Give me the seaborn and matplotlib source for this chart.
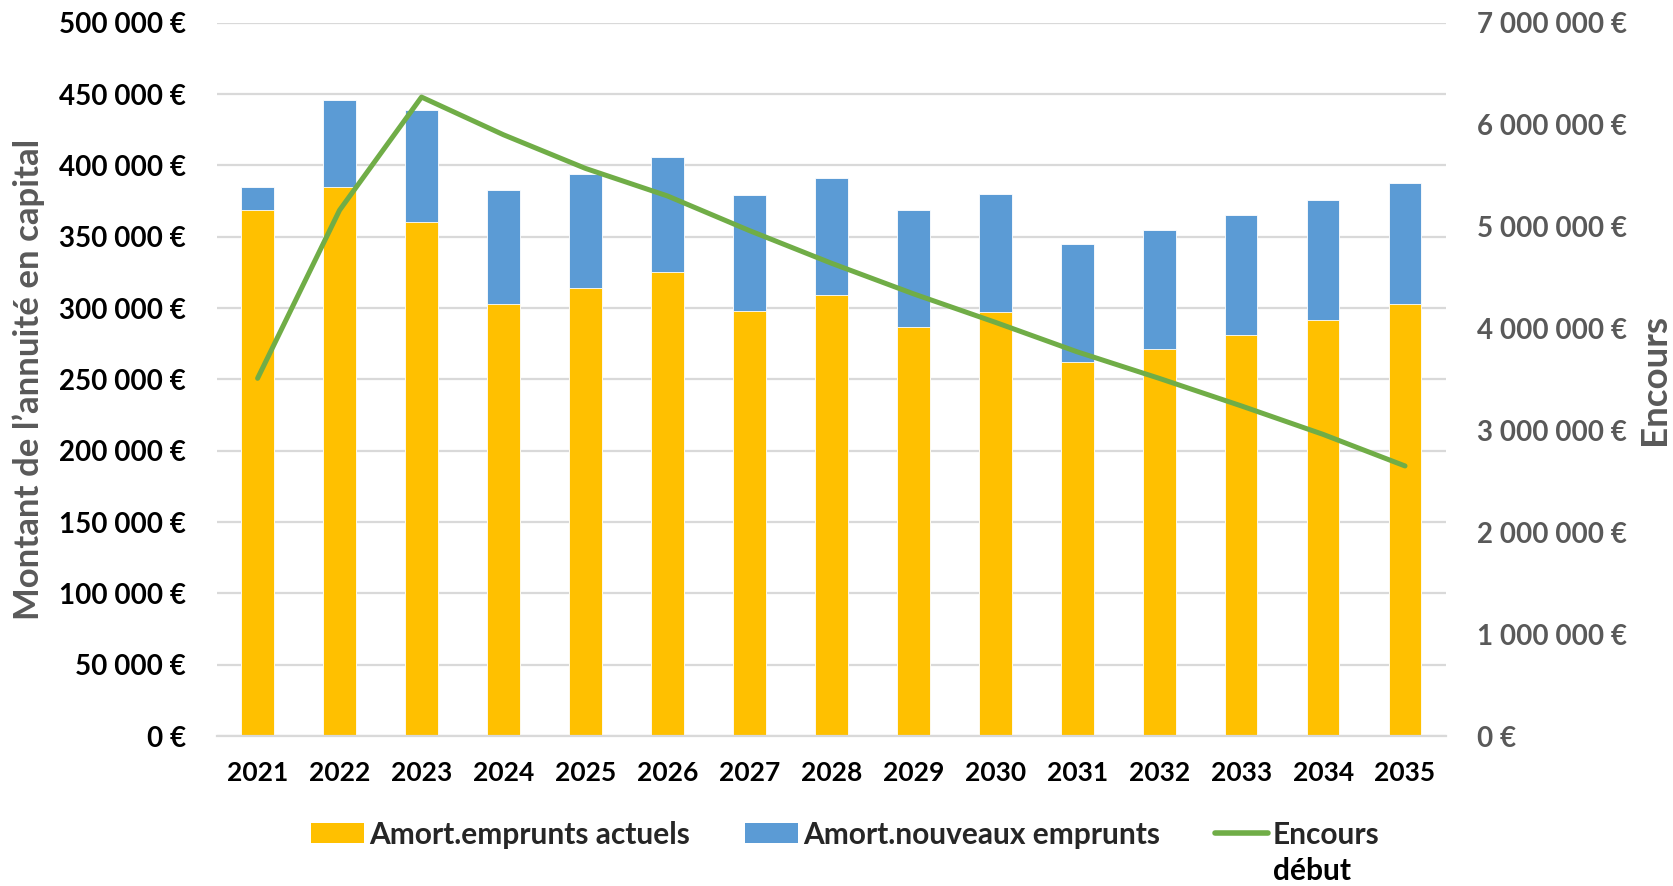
import pandas as pd
import matplotlib.pyplot as plt
import seaborn as sns
from matplotlib.ticker import FuncFormatter, MultipleLocator
from matplotlib.patches import Patch
from matplotlib.lines import Line2D

# données (en euros)
annees = [str(a) for a in range(2021, 2036)]
amort_actuels = [368500, 384500, 360000, 303000, 314000, 325000, 298000, 309000,
                 286500, 297000, 262000, 271000, 281000, 291500, 302500]
amort_nouveaux = [16500, 61500, 79000, 80000, 80000, 80500, 81000, 82000,
                  82000, 83000, 83000, 84000, 84500, 84500, 85000]
encours_debut = [3510000, 5160000, 6270000, 5900000, 5570000, 5300000, 4960000, 4640000,
                 4340000, 4060000, 3770000, 3510000, 3240000, 2960000, 2650000]

df = pd.DataFrame({
    "annee": annees,
    "actuels": amort_actuels,
    "nouveaux": amort_nouveaux,
    "encours": encours_debut,
})
df["total"] = df["actuels"] + df["nouveaux"]
df["pos"] = range(len(df))

JAUNE = "#FFC000"
BLEU = "#5B9BD5"
VERT = "#70AD47"
GRIS = "#595959"

sns.set_theme(style="white")
plt.rcParams["font.family"] = ["Lato", "DejaVu Sans"]
plt.rcParams["font.weight"] = "bold"

W, H = 1674, 886
fig, ax = plt.subplots(figsize=(W / 100, H / 100), dpi=100)
fig.subplots_adjust(left=0.1294, right=0.8638, top=0.9744, bottom=0.1693)

# barres empilées : total (bleu) puis part actuelle (jaune) par-dessus
sns.barplot(data=df, x="annee", y="total", color=BLEU, width=0.4,
            saturation=1, edgecolor="white", linewidth=0.6, ax=ax)
sns.barplot(data=df, x="annee", y="actuels", color=JAUNE, width=0.4,
            saturation=1, edgecolor="white", linewidth=0.6, ax=ax)

ax.set_ylim(0, 500000)
ax.yaxis.set_major_locator(MultipleLocator(50000))
fmt = FuncFormatter(lambda v, p: f"{int(round(v)):,}".replace(",", " ") + " €")
ax.yaxis.set_major_formatter(fmt)
ax.yaxis.grid(True, color="#D9D9D9", linewidth=1.6)
ax.set_axisbelow(True)
ax.set_xlabel("")
ax.set_ylabel("Montant de l’annuité en capital", fontsize=25, color=GRIS,
              fontweight="bold", labelpad=10)
ax.tick_params(axis="y", length=0, pad=22, labelsize=20, labelcolor="black")
ax.tick_params(axis="x", length=0, pad=18, labelsize=19, labelcolor="black")
for s in ["top", "right", "left"]:
    ax.spines[s].set_visible(False)
ax.spines["bottom"].set_color("#D9D9D9")
ax.spines["bottom"].set_linewidth(1.6)

# encours sur l'axe secondaire
ax2 = ax.twinx()
sns.lineplot(data=df, x="pos", y="encours", color=VERT, linewidth=3.6,
             solid_capstyle="round", ax=ax2)
ax2.set_ylim(0, 7000000)
ax2.yaxis.set_major_locator(MultipleLocator(1000000))
ax2.yaxis.set_major_formatter(fmt)
ax2.set_ylabel("Encours", fontsize=26.5, color=GRIS, fontweight="bold")
ax2.yaxis.set_label_coords(1.156, 0.5)
ax2.tick_params(axis="y", length=0, pad=22, labelsize=20, labelcolor=GRIS)
ax2.grid(False)
for s in ["top", "right", "left", "bottom"]:
    ax2.spines[s].set_visible(False)
ax.set_xlim(-0.5, len(df) - 0.5)
ax2.set_xlim(-0.5, len(df) - 0.5)

for lab in ax.get_xticklabels() + ax.get_yticklabels() + ax2.get_yticklabels():
    lab.set_fontweight("bold")

handles = [
    Patch(facecolor=JAUNE, edgecolor="none"),
    Patch(facecolor=BLEU, edgecolor="none"),
    Line2D([0], [0], color=VERT, linewidth=4, solid_capstyle="round"),
]
labels = ["Amort.emprunts actuels", "Amort.nouveaux emprunts", "Encours"]
leg = fig.legend(handles, labels, loc="center", bbox_to_anchor=(0.505, 0.058), ncol=3,
                 frameon=False, handlelength=1.76, handleheight=0.65,
                 handletextpad=0.17, columnspacing=1.85,
                 prop={"weight": "bold", "size": 21.5})

# deuxième ligne du libellé de la série « Encours début »
fig.canvas.draw()
bb = leg.get_texts()[2].get_window_extent()
fig.text(bb.x0 / W, (bb.y0 - 36) / H, "début", fontsize=21.5, fontweight="bold",
         ha="left", va="bottom", color="black")

plt.savefig("out.png", dpi=100)
